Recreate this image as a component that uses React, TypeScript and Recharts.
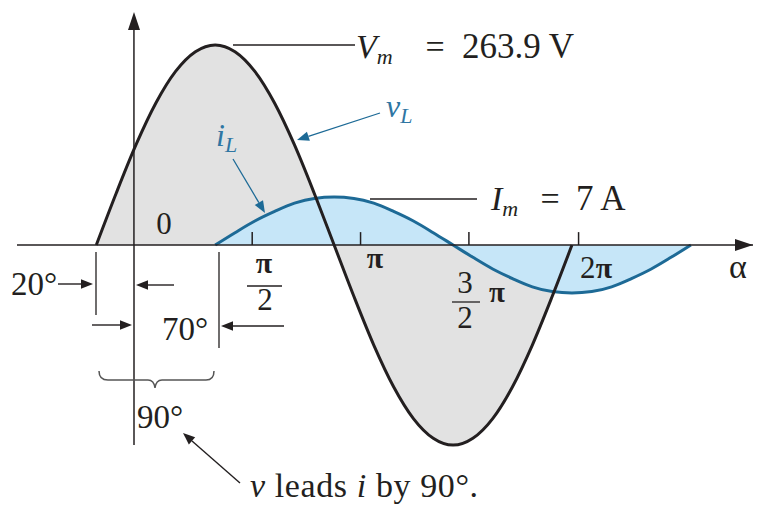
import React from "react";
import {
  Area,
  ComposedChart,
  Line,
  ReferenceLine,
  XAxis,
  YAxis,
} from "recharts";

// angle in degrees, 15° steps (the drawing's own scale)
const ANGLES = [
  -20, -5, 10, 25, 40, 55, 70, 85, 100, 115, 130, 145, 160, 175, 190, 205,
  220, 235, 250, 265, 280, 295, 310, 325, 340, 355, 370, 385, 400, 415, 430,
];

// v_L in volts (Vm = 263.9 V)
const V_L = [
  0, 68, 132, 187, 229, 255, 264, 255, 229, 187, 132, 68, 0, -68, -132, -187,
  -229, -255, -264, -255, -229, -187, -132, -68, 0, null, null, null, null,
  null, null,
];

// i_L in amps (Im = 7 A)
const I_L = [
  null, null, null, null, null, null, 0, 1.8, 3.5, 4.9, 6.1, 6.8, 7, 6.8, 6.1,
  4.9, 3.5, 1.8, 0, -1.8, -3.5, -4.9, -6.1, -6.8, -7, -6.8, -6.1, -4.9, -3.5,
  -1.8, 0,
];

// axis marks: π/2, π, 3π/2, 2π (as placed in the figure)
const TICKS = [98, 180, 262, 345];
const Y_AXIS_AT = 8.5;

const data = ANGLES.map((deg, idx) => ({ deg, v: V_L[idx], i: I_L[idx] }));

const INK = "#231f20";
const BLUE = "#1d6a96";
const BLUE_TEXT = "#2f76a3";
const FONT = '"Liberation Serif", "DejaVu Serif", serif';

function Arrow({
  x1,
  y1,
  x2,
  y2,
  color = INK,
  head = 12,
  width = 1.4,
}: {
  x1: number;
  y1: number;
  x2: number;
  y2: number;
  color?: string;
  head?: number;
  width?: number;
}) {
  const ang = Math.atan2(y2 - y1, x2 - x1);
  const hw = head * 0.4;
  const bx = x2 - head * Math.cos(ang);
  const by = y2 - head * Math.sin(ang);
  const p1 = `${bx + hw * Math.sin(ang)},${by - hw * Math.cos(ang)}`;
  const p2 = `${bx - hw * Math.sin(ang)},${by + hw * Math.cos(ang)}`;
  return (
    <g>
      <line x1={x1} y1={y1} x2={bx} y2={by} stroke={color} strokeWidth={width} />
      <polygon points={`${x2},${y2} ${p1} ${p2}`} fill={color} />
    </g>
  );
}

function Pi({ x, y, size = 30 }: { x: number; y: number; size?: number }) {
  return (
    <text x={x} y={y} fontSize={size} fontWeight="bold" textAnchor="middle">
      π
    </text>
  );
}

function Overlay() {
  return (
    <svg
      width={759}
      height={511}
      style={{ position: "absolute", left: 0, top: 0, pointerEvents: "none" }}
      fontFamily={FONT}
      fill={INK}
    >
      {/* axis arrowheads */}
      <polygon points="134,12 128,30 140,30" fill={INK} />
      <polygon points="753,245 735,239 735,251" fill={INK} />

      {/* leaders */}
      <line x1={233} y1={45} x2={355} y2={45} stroke={INK} strokeWidth={1.4} />
      <line x1={370} y1={199} x2={477} y2={199} stroke={INK} strokeWidth={1.4} />

      <text x={356} y={58} fontSize={34}>
        <tspan fontStyle="italic">V</tspan>
        <tspan fontStyle="italic" fontSize={22} dy={6}>m</tspan>
      </text>
      <text x={435} y={58} fontSize={34} textAnchor="middle">=</text>
      <text x={462} y={58} fontSize={35}>263.9 V</text>

      <text x={491} y={210} fontSize={34}>
        <tspan fontStyle="italic">I</tspan>
        <tspan fontStyle="italic" fontSize={22} dy={6}>m</tspan>
      </text>
      <text x={550} y={210} fontSize={34} textAnchor="middle">=</text>
      <text x={576} y={210} fontSize={35}>7 A</text>

      <text x={386} y={117} fontSize={32} fill={BLUE_TEXT} fontStyle="italic">
        v<tspan fontSize={22} dy={6}>L</tspan>
      </text>
      <Arrow x1={380} y1={113} x2={297} y2={140} color={BLUE} width={1.3} />
      <text x={216} y={146} fontSize={32} fill={BLUE_TEXT} fontStyle="italic">
        i<tspan fontSize={22} dy={6}>L</tspan>
      </text>
      <Arrow x1={233} y1={159} x2={265} y2={213} color={BLUE} width={1.3} />

      {/* tick labels */}
      <text x={164} y={234} fontSize={31} textAnchor="middle">0</text>
      <Pi x={375} y={268} />
      <Pi x={264} y={273} />
      <line x1={247} y1={286} x2={282} y2={286} stroke={INK} strokeWidth={1.3} />
      <text x={265} y={310} fontSize={31} textAnchor="middle">2</text>
      <text x={465} y={293} fontSize={31} textAnchor="middle">3</text>
      <line x1={452} y1={302} x2={480} y2={302} stroke={INK} strokeWidth={1.3} />
      <text x={465} y={328} fontSize={31} textAnchor="middle">2</text>
      <Pi x={497} y={302} size={29} />
      <text x={580} y={278} fontSize={31}>2</text>
      <Pi x={604} y={278} />
      <text x={738} y={278} fontSize={34} textAnchor="middle">α</text>

      {/* phase dimensions */}
      <line x1={96} y1={252} x2={96} y2={315} stroke={INK} strokeWidth={1.3} />
      <line x1={219} y1={252} x2={219} y2={348} stroke={INK} strokeWidth={1.3} />
      <line x1={134} y1={245} x2={134} y2={445} stroke={INK} strokeWidth={1.5} />
      <text x={11} y={295} fontSize={33}>20°</text>
      <Arrow x1={58} y1={284} x2={93} y2={284} />
      <Arrow x1={174} y1={285} x2={136} y2={285} />
      <Arrow x1={92} y1={325} x2={132} y2={325} />
      <text x={162} y={340} fontSize={33}>70°</text>
      <Arrow x1={284} y1={326} x2={221} y2={326} />
      <path
        d="M99,371 Q99,380 108,380 L148,380 Q154,380 155,388 Q156,380 162,380 L206,380 Q214,380 214,371"
        fill="none"
        stroke="#555"
        strokeWidth={1.5}
      />
      <text x={137} y={428} fontSize={33}>90°</text>
      <Arrow x1={240} y1={483} x2={183} y2={433} />
      <text x={250} y={497} fontSize={34} letterSpacing={0.6}>
        <tspan fontStyle="italic">v</tspan> leads <tspan fontStyle="italic">i</tspan> by 90°.
      </text>
    </svg>
  );
}

export default function App() {
  return (
    <div
      style={{
        position: "fixed",
        left: 0,
        top: 0,
        width: 759,
        height: 511,
        background: "#ffffff",
      }}
    >
      <ComposedChart
        width={759}
        height={511}
        data={data}
        margin={{ top: 12, right: 6, bottom: 33, left: 17 }}
      >
        <XAxis
          type="number"
          dataKey="deg"
          domain={[-80, 477]}
          allowDataOverflow
          hide
        />
        <YAxis yAxisId="v" domain={[-307.4, 307.4]} allowDataOverflow hide />
        <YAxis yAxisId="i" domain={[-34, 34]} allowDataOverflow hide />

        <Area
          yAxisId="v"
          dataKey="v"
          type="monotone"
          baseValue={0}
          stroke="none"
          fill="#e2e2e2"
          fillOpacity={1}
          isAnimationActive={false}
        />
        <Area
          yAxisId="i"
          dataKey="i"
          type="monotone"
          baseValue={0}
          stroke={BLUE}
          strokeWidth={3}
          fill="#c6e6f8"
          fillOpacity={1}
          dot={false}
          activeDot={false}
          isAnimationActive={false}
        />
        <Line
          yAxisId="v"
          dataKey="v"
          type="monotone"
          stroke={INK}
          strokeWidth={3}
          dot={false}
          activeDot={false}
          isAnimationActive={false}
        />

        <ReferenceLine yAxisId="v" y={0} stroke={INK} strokeWidth={1.5} ifOverflow="visible" />
        <ReferenceLine
          yAxisId="v"
          segment={[
            { x: Y_AXIS_AT, y: 0 },
            { x: Y_AXIS_AT, y: 284 },
          ]}
          stroke={INK}
          strokeWidth={1.5}
        />
        {TICKS.map((t) => (
          <ReferenceLine
            key={t}
            yAxisId="v"
            segment={[
              { x: t, y: 0 },
              { x: t, y: 17 },
            ]}
            stroke={INK}
            strokeWidth={1.5}
          />
        ))}
      </ComposedChart>
      <Overlay />
    </div>
  );
}
